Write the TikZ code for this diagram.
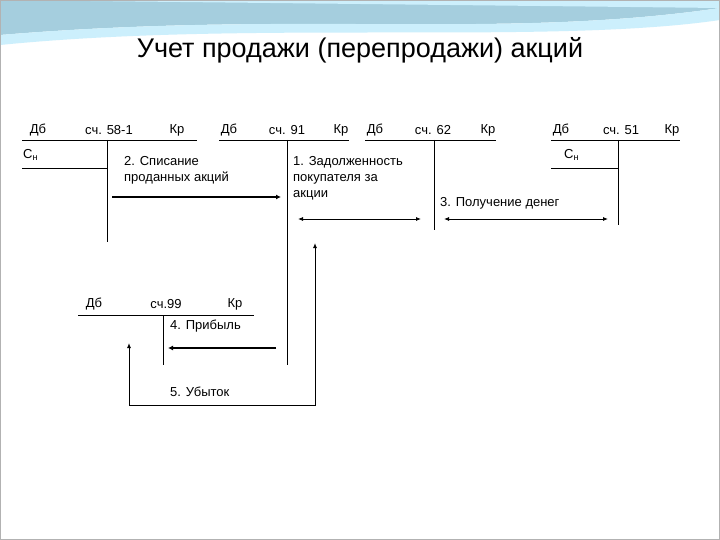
\documentclass[tikz,border=0pt]{standalone}
\usepackage{fontspec}
\setmainfont{Liberation Sans}
\usetikzlibrary{arrows.meta}
\begin{document}
\begin{tikzpicture}[x=1pt,y=-1pt,
  lbl/.style={inner sep=0pt,font=\fontsize{13}{15}\selectfont},
  txt/.style={inner sep=0pt,anchor=north west,align=left,font=\fontsize{13}{16}\selectfont},
  acc/.style={line width=0.8pt},
  thick arr/.style={line width=2pt,-{Latex[length=5pt,width=5pt]}},
  thin arr/.style={line width=0.8pt,{Latex[length=5pt,width=4pt]}-{Latex[length=5pt,width=4pt]}}]
\useasboundingbox (0,0) rectangle (720,540);
\fill[white] (0,0) rectangle (720,540);
% decorative top waves
\fill[cyan!35!teal!40] (0,0) -- (720,0) -- (720,8) .. controls (500,40) and (300,10) .. (0,35) -- cycle;
\fill[cyan!20] (0,0) -- (720,0) -- (720,20) .. controls (550,45) and (250,20) .. (0,45) -- (0,35) .. controls (300,10) and (500,40) .. (720,8) -- cycle;
\draw[gray!60] (0.5,0.5) rectangle (719.5,539.5);
\node[font=\fontsize{27}{30}\selectfont] (title) at (360,50) {Учет продажи (перепродажи) акций};
% account 58-1
\node[lbl] (d1) at (38,130) {Дб};
\node[lbl] (n1) at (109,130) {сч. 58-1};
\node[lbl] (k1) at (177,130) {Кр};
\node[lbl,anchor=west] (c1) at (23,155) {С\textsubscript{н}};
\coordinate (a1l) at (22,140); \coordinate (a1r) at (197,140);
\coordinate (a1t) at (107,140); \coordinate (a1b) at (107,242);
\coordinate (c1l) at (22,168); \coordinate (c1r) at (107,168);
\draw[acc] (a1l) -- (a1r) (a1t) -- (a1b) (c1l) -- (c1r);
% account 91
\node[lbl] (d2) at (229,130) {Дб};
\node[lbl] (n2) at (287,130) {сч. 91};
\node[lbl] (k2) at (341,130) {Кр};
\coordinate (a2l) at (219,140); \coordinate (a2r) at (349,140);
\coordinate (a2t) at (287,140); \coordinate (a2b) at (287,365);
\draw[acc] (a2l) -- (a2r) (a2t) -- (a2b);
% account 62
\node[lbl] (d3) at (375,130) {Дб};
\node[lbl] (n3) at (433,130) {сч. 62};
\node[lbl] (k3) at (488,130) {Кр};
\coordinate (a3l) at (365,140); \coordinate (a3r) at (496,140);
\coordinate (a3t) at (434,140); \coordinate (a3b) at (434,230);
\draw[acc] (a3l) -- (a3r) (a3t) -- (a3b);
% account 51
\node[lbl] (d4) at (561,130) {Дб};
\node[lbl] (n4) at (621,130) {сч. 51};
\node[lbl] (k4) at (672,130) {Кр};
\node[lbl,anchor=west] (c4) at (564,155) {С\textsubscript{н}};
\coordinate (a4l) at (551,140); \coordinate (a4r) at (680,140);
\coordinate (a4t) at (618,140); \coordinate (a4b) at (618,225);
\coordinate (c4l) at (551,168); \coordinate (c4r) at (618,168);
\draw[acc] (a4l) -- (a4r) (a4t) -- (a4b) (c4l) -- (c4r);
% account 99
\node[lbl] (d5) at (94,304) {Дб};
\node[lbl] (n5) at (166,304) {сч.99};
\node[lbl] (k5) at (235,304) {Кр};
\coordinate (a5l) at (78,315); \coordinate (a5r) at (254,315);
\coordinate (a5t) at (163,315); \coordinate (a5b) at (163,365);
\draw[acc] (a5l) -- (a5r) (a5t) -- (a5b);
% labels
\node[txt] (t2) at (124,156) {2. Списание\\проданных акций};
\node[txt] (t1) at (293,156) {1. Задолженность\\покупателя за\\акции};
\node[txt] (t3) at (440,197) {3. Получение денег};
\node[txt] (t4) at (170,320) {4. Прибыль};
\node[txt] (t5) at (170,387) {5. Убыток};
% arrows
\coordinate (p2s) at (112,197); \coordinate (p2e) at (281,197);
\draw[thick arr] (p2s) -- (p2e);
\coordinate (p1s) at (298,219); \coordinate (p1e) at (421,219);
\draw[thin arr] (p1s) -- (p1e);
\coordinate (p3s) at (444,219); \coordinate (p3e) at (608,219);
\draw[thin arr] (p3s) -- (p3e);
\coordinate (p4s) at (276,348); \coordinate (p4e) at (168,348);
\draw[thick arr] (p4s) -- (p4e);
\coordinate (p5s) at (315,243); \coordinate (p5e) at (129,343);
\draw[line width=1pt,{Latex[length=5pt,width=4pt]}-{Latex[length=5pt,width=4pt]}] (p5s) |- (129,405) -- (p5e);
\end{tikzpicture}
\end{document}
